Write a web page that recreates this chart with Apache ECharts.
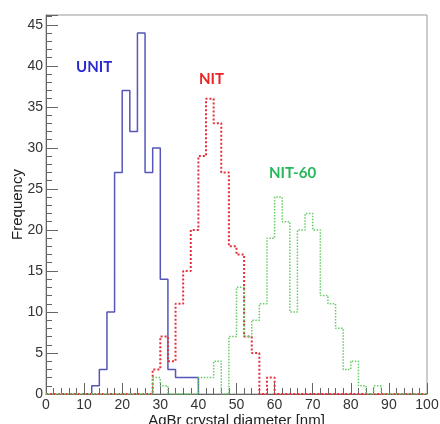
<!DOCTYPE html>
<html>
<head>
<meta charset="utf-8">
<script src="https://cdn.jsdelivr.net/npm/echarts@6/dist/echarts.min.js"></script>
<style>
  html, body { margin: 0; padding: 0; background: #fff; }
  #chart { width: 440px; height: 424px; }
</style>
</head>
<body>
<div id="chart"></div>
<script>
// bin edges, 2 nm wide
const binEdges = [0, 2, 4, 6, 8, 10, 12, 14, 16, 18, 20, 22, 24, 26, 28, 30, 32, 34, 36, 38, 40,
  42, 44, 46, 48, 50, 52, 54, 56, 58, 60, 62, 64, 66, 68, 70, 72, 74, 76, 78, 80,
  82, 84, 86, 88, 90, 92, 94, 96, 98, 100]

// counts per bin
const unitCounts = [0, 0, 0, 0, 0, 0, 1, 3, 10, 27, 37, 32, 44, 27, 30, 14, 3, 2, 2, 2,
  0, 0, 0, 0, 0, 0, 0, 0, 0, 0, 0, 0, 0, 0, 0, 0, 0, 0, 0, 0, 0, 0, 0, 0, 0, 0, 0, 0, 0, 0]
const nitCounts = [0, 0, 0, 0, 0, 0, 0, 0, 0, 0, 0, 0, 0, 0, 3, 7, 4, 11, 15, 20,
  29, 36, 33, 27, 18, 17, 7, 5, 0, 2, 0, 0, 0, 0, 0, 0, 0, 0, 0, 0, 0, 0, 0, 0, 0, 0, 0, 0, 0, 0]
const nit60Counts = [0, 0, 0, 0, 0, 0, 0, 0, 0, 0, 0, 0, 0, 0, 2, 1, 0, 0, 0, 0,
  2, 2, 4, 0, 7, 13, 7, 9, 11, 19, 24, 21, 10, 20, 22, 20, 12, 11, 8, 3,
  4, 1, 0, 1, 0, 0, 0, 0, 0, 0]

// turn counts into step outline points
function outline(counts, trim) {
  let first = 0
  let last = counts.length - 1
  if (trim) {
    while (first < last && counts[first] === 0) first++
    while (last > first && counts[last] === 0) last--
  }
  const pts = [[binEdges[first], 0]]
  for (let i = first; i <= last; i++) {
    pts.push([binEdges[i], counts[i]])
  }
  pts.push([binEdges[last + 1], counts[last]])
  pts.push([binEdges[last + 1], 0])
  return pts
}

const chart = echarts.init(document.getElementById('chart'), null, { renderer: 'canvas' })
const labelFont = 'Liberation Sans, Arial, sans-serif'
const tagFont = 'Lato, Open Sans, sans-serif'

chart.setOption({
  animation: false,
  grid: {
    left: 46,
    right: 13,
    top: 15,
    bottom: 30,
    outerBoundsMode: 'none',
    containLabel: false,
    show: true,
    borderColor: '#999',
    borderWidth: 1
  },
  xAxis: {
    type: 'value',
    min: 0,
    max: 100,
    interval: 10,
    name: 'AgBr crystal diameter [nm]',
    nameLocation: 'middle',
    nameGap: 19,
    nameMoveOverlap: false,
    nameTextStyle: { fontFamily: labelFont, fontSize: 15, color: '#222' },
    axisLine: { lineStyle: { color: '#666' } },
    axisTick: { inside: true, length: 11, lineStyle: { color: '#666' } },
    minorTick: { show: true, splitNumber: 5, length: 6, lineStyle: { color: '#666' } },
    axisLabel: { fontFamily: labelFont, fontSize: 14, color: '#333', margin: 4 },
    splitLine: { show: false }
  },
  yAxis: {
    type: 'value',
    min: 0,
    max: 46.2,
    interval: 5,
    name: 'Frequency',
    nameLocation: 'middle',
    nameGap: 21,
    nameMoveOverlap: false,
    nameTextStyle: { fontFamily: labelFont, fontSize: 15, color: '#222' },
    axisLine: { show: true, lineStyle: { color: '#666' } },
    axisTick: { show: true, inside: true, length: 12, lineStyle: { color: '#666' } },
    minorTick: { show: true, splitNumber: 5, length: 6, lineStyle: { color: '#666' } },
    axisLabel: { fontFamily: labelFont, fontSize: 14, color: '#333', margin: 3, showMaxLabel: false },
    splitLine: { show: false }
  },
  series: [
    {
      name: 'UNIT',
      type: 'line',
      step: 'end',
      showSymbol: false,
      data: outline(unitCounts, true),
      lineStyle: { color: '#5656b8', width: 1.5 }
    },
    {
      name: 'NIT',
      type: 'line',
      step: 'end',
      showSymbol: false,
      data: outline(nitCounts, false),
      lineStyle: { color: '#e4303a', width: 2, type: [2, 2] }
    },
    {
      name: 'NIT-60',
      type: 'line',
      step: 'end',
      showSymbol: false,
      data: outline(nit60Counts, false),
      lineStyle: { color: '#66cc66', width: 1.5, type: [1.5, 1.5] }
    }
  ],
  graphic: [
    {
      type: 'text', left: 76, top: 60,
      style: { text: 'UNIT', fill: '#2a2ad0', font: 'bold 15px ' + tagFont }
    },
    {
      type: 'text', left: 199, top: 72,
      style: { text: 'NIT', fill: '#e82424', font: 'bold 15px ' + tagFont }
    },
    {
      type: 'text', left: 269, top: 166,
      style: { text: 'NIT-60', fill: '#27b85a', font: 'bold 15px ' + tagFont }
    }
  ]
})

window.addEventListener('resize', () => chart.resize())
</script>
</body>
</html>
